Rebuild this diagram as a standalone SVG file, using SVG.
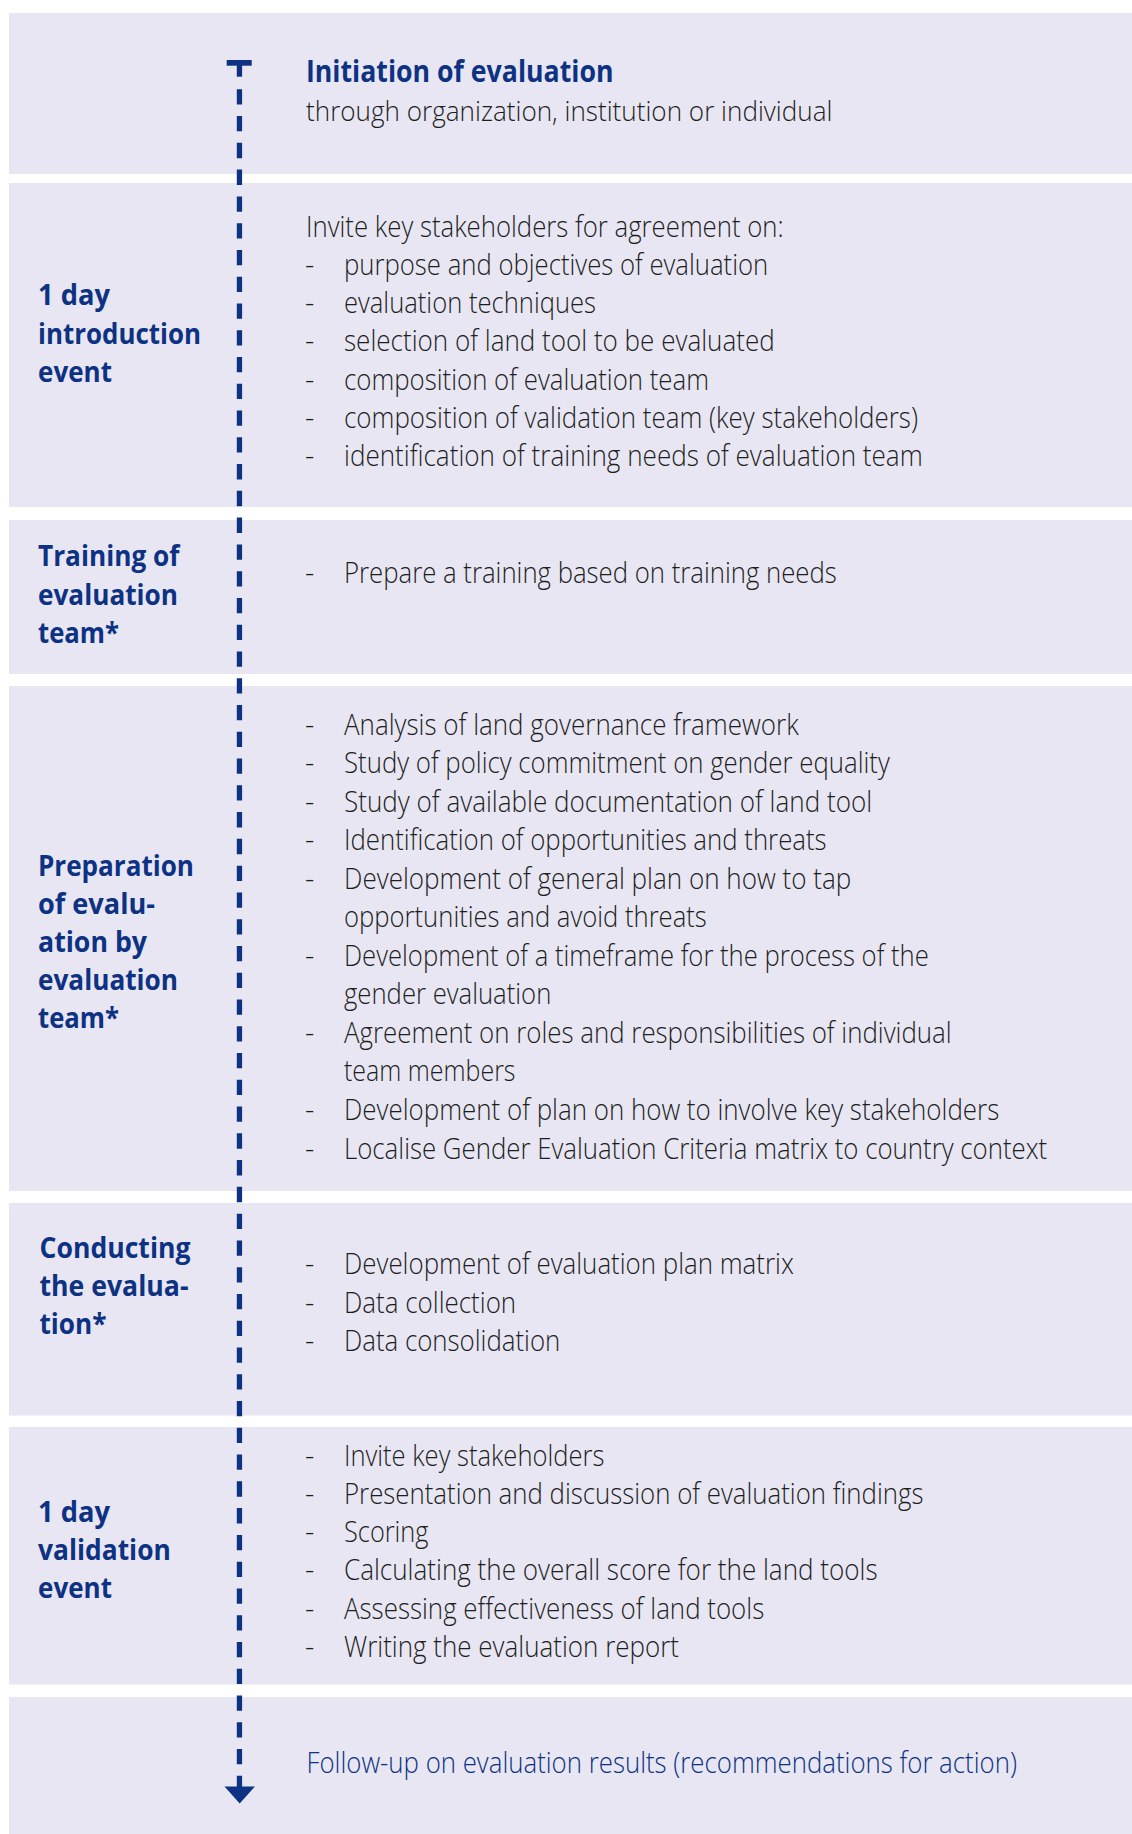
<svg xmlns="http://www.w3.org/2000/svg" width="1132" height="1834" viewBox="0 0 1132 1834">
<style>
.band{fill:#e7e6f2}
.t{font-family:"Open Sans","Liberation Sans",sans-serif}
.title{font-weight:700;font-size:30px;fill:#0e3283}
.sub{font-weight:300;font-size:28px;fill:#1e1e1e}
.lbl{font-weight:700;font-size:29px;fill:#0e3283}
.body{font-weight:300;font-size:29px;fill:#1e1e1e}
.fu{font-weight:300;font-size:29px;fill:#0e3283}
.line{fill:none;stroke:#0e3283;stroke-width:5.3;stroke-dasharray:15.3 11.47}
.ink{fill:#0e3283}
</style>
<rect width="1132" height="1834" fill="#ffffff"/>

<g id="initiation">
<rect class="band" x="9" y="13" width="1123" height="161"/>
<text class="t title" x="306" y="82" textLength="307.5" lengthAdjust="spacingAndGlyphs">Initiation of evaluation</text>
<text class="t sub" x="306" y="120.5" textLength="526.4" lengthAdjust="spacingAndGlyphs">through organization, institution or individual</text>
</g>

<g id="introduction-event">
<rect class="band" x="9" y="183" width="1123" height="324"/>
<text class="t lbl" x="38" y="305" textLength="72" lengthAdjust="spacingAndGlyphs">1 day</text>
<text class="t lbl" x="38" y="343.5" textLength="163" lengthAdjust="spacingAndGlyphs">introduction</text>
<text class="t lbl" x="38" y="382" textLength="74" lengthAdjust="spacingAndGlyphs">event</text>
<text class="t body" x="306" y="236.5" textLength="477.7" lengthAdjust="spacingAndGlyphs">Invite key stakeholders for agreement on:</text>
<text class="t body" x="305" y="274.8">-</text>
<text class="t body" x="344" y="274.8" textLength="424.2" lengthAdjust="spacingAndGlyphs">purpose and objectives of evaluation</text>
<text class="t body" x="305" y="313.1">-</text>
<text class="t body" x="344" y="313.1" textLength="252" lengthAdjust="spacingAndGlyphs">evaluation techniques</text>
<text class="t body" x="305" y="351.4">-</text>
<text class="t body" x="344" y="351.4" textLength="430.7" lengthAdjust="spacingAndGlyphs">selection of land tool to be evaluated</text>
<text class="t body" x="305" y="389.7">-</text>
<text class="t body" x="344" y="389.7" textLength="365" lengthAdjust="spacingAndGlyphs">composition of evaluation team</text>
<text class="t body" x="305" y="428">-</text>
<text class="t body" x="344" y="428" textLength="574" lengthAdjust="spacingAndGlyphs">composition of validation team (key stakeholders)</text>
<text class="t body" x="305" y="466.3">-</text>
<text class="t body" x="344" y="466.3" textLength="578.7" lengthAdjust="spacingAndGlyphs">identification of training needs of evaluation team</text>
</g>

<g id="training">
<rect class="band" x="9" y="520" width="1123" height="154"/>
<text class="t lbl" x="38" y="566" textLength="141.5" lengthAdjust="spacingAndGlyphs">Training of</text>
<text class="t lbl" x="38" y="605" textLength="140" lengthAdjust="spacingAndGlyphs">evaluation</text>
<text class="t lbl" x="38" y="642.5" textLength="81" lengthAdjust="spacingAndGlyphs">team*</text>
<text class="t body" x="305" y="582.5">-</text>
<text class="t body" x="344" y="582.5" textLength="492.8" lengthAdjust="spacingAndGlyphs">Prepare a training based on training needs</text>
</g>

<g id="preparation">
<rect class="band" x="9" y="686" width="1123" height="505"/>
<text class="t lbl" x="38" y="875.5" textLength="156" lengthAdjust="spacingAndGlyphs">Preparation</text>
<text class="t lbl" x="38" y="913.5" textLength="117" lengthAdjust="spacingAndGlyphs">of evalu-</text>
<text class="t lbl" x="38" y="951.5" textLength="109" lengthAdjust="spacingAndGlyphs">ation by</text>
<text class="t lbl" x="38" y="989.5" textLength="140" lengthAdjust="spacingAndGlyphs">evaluation</text>
<text class="t lbl" x="38" y="1027.5" textLength="81" lengthAdjust="spacingAndGlyphs">team*</text>
<text class="t body" x="305" y="734.5">-</text>
<text class="t body" x="344" y="734.5" textLength="454.8" lengthAdjust="spacingAndGlyphs">Analysis of land governance framework</text>
<text class="t body" x="305" y="773">-</text>
<text class="t body" x="344" y="773" textLength="545.8" lengthAdjust="spacingAndGlyphs">Study of policy commitment on gender equality</text>
<text class="t body" x="305" y="811.5">-</text>
<text class="t body" x="344" y="811.5" textLength="528.1" lengthAdjust="spacingAndGlyphs">Study of available documentation of land tool</text>
<text class="t body" x="305" y="850">-</text>
<text class="t body" x="344" y="850" textLength="482.6" lengthAdjust="spacingAndGlyphs">Identification of opportunities and threats</text>
<text class="t body" x="305" y="888.5">-</text>
<text class="t body" x="344" y="888.5" textLength="507.2" lengthAdjust="spacingAndGlyphs">Development of general plan on how to tap</text>
<text class="t body" x="344" y="927" textLength="362.8" lengthAdjust="spacingAndGlyphs">opportunities and avoid threats</text>
<text class="t body" x="305" y="965.5">-</text>
<text class="t body" x="344" y="965.5" textLength="584.8" lengthAdjust="spacingAndGlyphs">Development of a timeframe for the process of the</text>
<text class="t body" x="344" y="1004" textLength="207.3" lengthAdjust="spacingAndGlyphs">gender evaluation</text>
<text class="t body" x="305" y="1042.5">-</text>
<text class="t body" x="344" y="1042.5" textLength="607.6" lengthAdjust="spacingAndGlyphs">Agreement on roles and responsibilities of individual</text>
<text class="t body" x="344" y="1081" textLength="171.5" lengthAdjust="spacingAndGlyphs">team members</text>
<text class="t body" x="305" y="1119.5">-</text>
<text class="t body" x="344" y="1119.5" textLength="655.2" lengthAdjust="spacingAndGlyphs">Development of plan on how to involve key stakeholders</text>
<text class="t body" x="305" y="1158.5">-</text>
<text class="t body" x="344" y="1158.5" textLength="703.2" lengthAdjust="spacingAndGlyphs">Localise Gender Evaluation Criteria matrix to country context</text>
</g>

<g id="conducting">
<rect class="band" x="9" y="1203" width="1123" height="212.5"/>
<text class="t lbl" x="39.5" y="1258" textLength="151" lengthAdjust="spacingAndGlyphs">Conducting</text>
<text class="t lbl" x="39.5" y="1296" textLength="149" lengthAdjust="spacingAndGlyphs">the evalua-</text>
<text class="t lbl" x="39.5" y="1334" textLength="67" lengthAdjust="spacingAndGlyphs">tion*</text>
<text class="t body" x="305" y="1274">-</text>
<text class="t body" x="344" y="1274" textLength="449.8" lengthAdjust="spacingAndGlyphs">Development of evaluation plan matrix</text>
<text class="t body" x="305" y="1312.5">-</text>
<text class="t body" x="344" y="1312.5" textLength="172.2" lengthAdjust="spacingAndGlyphs">Data collection</text>
<text class="t body" x="305" y="1351">-</text>
<text class="t body" x="344" y="1351" textLength="216.3" lengthAdjust="spacingAndGlyphs">Data consolidation</text>
</g>

<g id="validation-event">
<rect class="band" x="9" y="1427" width="1123" height="257.5"/>
<text class="t lbl" x="38" y="1521.5" textLength="72" lengthAdjust="spacingAndGlyphs">1 day</text>
<text class="t lbl" x="38" y="1559.5" textLength="132.8" lengthAdjust="spacingAndGlyphs">validation</text>
<text class="t lbl" x="38" y="1597.5" textLength="74" lengthAdjust="spacingAndGlyphs">event</text>
<text class="t body" x="305" y="1465.5">-</text>
<text class="t body" x="344" y="1465.5" textLength="260.3" lengthAdjust="spacingAndGlyphs">Invite key stakeholders</text>
<text class="t body" x="305" y="1503.8">-</text>
<text class="t body" x="344" y="1503.8" textLength="579.4" lengthAdjust="spacingAndGlyphs">Presentation and discussion of evaluation findings</text>
<text class="t body" x="305" y="1542.1">-</text>
<text class="t body" x="344" y="1542.1" textLength="84.5" lengthAdjust="spacingAndGlyphs">Scoring</text>
<text class="t body" x="305" y="1580.4">-</text>
<text class="t body" x="344" y="1580.4" textLength="533.6" lengthAdjust="spacingAndGlyphs">Calculating the overall score for the land tools</text>
<text class="t body" x="305" y="1618.7">-</text>
<text class="t body" x="344" y="1618.7" textLength="420.2" lengthAdjust="spacingAndGlyphs">Assessing effectiveness of land tools</text>
<text class="t body" x="305" y="1657">-</text>
<text class="t body" x="344" y="1657" textLength="335" lengthAdjust="spacingAndGlyphs">Writing the evaluation report</text>
</g>

<g id="follow-up">
<rect class="band" x="9" y="1697" width="1123" height="137"/>
<text class="t fu" x="306.5" y="1773" textLength="710.4" lengthAdjust="spacingAndGlyphs">Follow-up on evaluation results (recommendations for action)</text>
</g>

<g id="connectors">
<rect class="ink" x="226.7" y="60" width="25" height="5.7"/>
<rect class="ink" x="236.8" y="60" width="5.3" height="16.7"/>
<path class="line" d="M239.45 89.3 V1792"/>
<polygon class="ink" points="224.5,1786.4 254.9,1786.4 239.7,1803.4"/>
</g>
</svg>
